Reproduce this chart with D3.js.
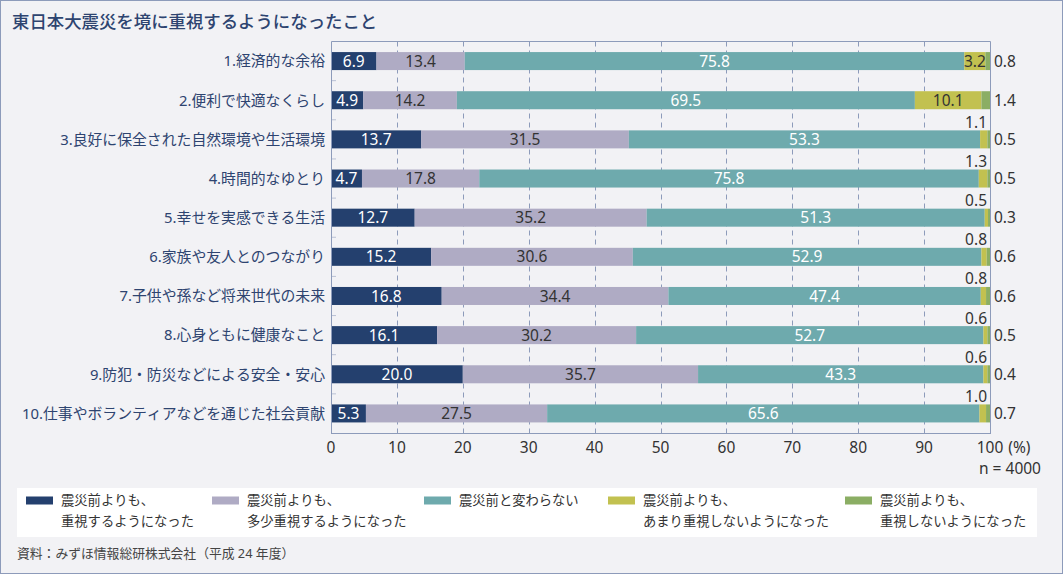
<!DOCTYPE html>
<html><head><meta charset="utf-8">
<script src="https://cdn.jsdelivr.net/npm/d3@7"></script>
<style>
html,body{margin:0;padding:0;background:#f2f2f5;}
svg{display:block;font-family:"Noto Sans","Noto Sans CJK JP",sans-serif;font-kerning:none;}
</style></head><body>
<svg id="c" width="1063" height="574"></svg>
<script>
const title = "東日本大震災を境に重視するようになったこと";
const categories = ["1.経済的な余裕","2.便利で快適なくらし","3.良好に保全された自然環境や生活環境","4.時間的なゆとり","5.幸せを実感できる生活","6.家族や友人とのつながり","7.子供や孫など将来世代の未来","8.心身ともに健康なこと","9.防犯・防災などによる安全・安心","10.仕事やボランティアなどを通じた社会貢献"];
const seriesNames = ["震災前よりも、\n重視するようになった","震災前よりも、\n多少重視するようになった","震災前と変わらない","震災前よりも、\nあまり重視しないようになった","震災前よりも、\n重視しないようになった"];
const s1 = [6.9,4.9,13.7,4.7,12.7,15.2,16.8,16.1,20.0,5.3];
const s2 = [13.4,14.2,31.5,17.8,35.2,30.6,34.4,30.2,35.7,27.5];
const s3 = [75.8,69.5,53.3,75.8,51.3,52.9,47.4,52.7,43.3,65.6];
const s4 = [3.2,10.1,1.1,1.3,0.5,0.8,0.8,0.6,0.6,1.0];
const s5 = [0.8,1.4,0.5,0.5,0.3,0.6,0.6,0.5,0.4,0.7];
const xTicks = [0,10,20,30,40,50,60,70,80,90,100];
const unitLabel = "(%)";
const nNote = "n = 4000";
const source = "資料：みずほ情報総研株式会社（平成 24 年度）";
const colors = ["#24406e","#afabc4","#6eaaad","#c2c150","#8bae64"];
const textColors = ["#ffffff","#333333","#ffffff","#333333","#333333"];
const series = [s1,s2,s3,s4,s5];

(function(){
const svg = d3.select("#c");
const W=1063,H=574;
svg.append("rect").attr("x",0.5).attr("y",0.5).attr("width",W-1).attr("height",H-1)
  .attr("fill","#f2f2f5").attr("stroke","#8d9bba").attr("stroke-width",1);

svg.append("text").attr("x",12).attr("y",28).text(title)
  .attr("font-size",17.4).attr("font-weight",500).attr("fill","#2e4470")
  .style("font-family",'"Noto Sans CJK JP Medium","Noto Sans CJK JP",sans-serif');

const pL=331,pR=990,pT=41.5,pB=433;
const x = d3.scaleLinear().domain([0,100]).range([pL,pR]);
const y = d3.scaleBand().domain(categories).range([pT,pB]).paddingInner(0.54).paddingOuter(0.27);
const bh = y.bandwidth();

svg.append("g").selectAll("line").data(xTicks.filter(t=>t>0&&t<100)).join("line")
  .attr("x1",d=>Math.round(x(d))+0.5).attr("x2",d=>Math.round(x(d))+0.5).attr("y1",pT).attr("y2",pB)
  .attr("stroke","#8d9bba").attr("stroke-width",1).attr("stroke-dasharray","5,4");

const rowH=(pB-pT)/categories.length;
svg.append("g").selectAll("line").data(d3.range(1,categories.length)).join("line")
  .attr("x1",pL).attr("x2",pL+5).attr("y1",d=>pT+d*rowH).attr("y2",d=>pT+d*rowH)
  .attr("stroke","#b9c1d4").attr("stroke-width",1);

const stackData = categories.map((c,i)=>{
  const o={cat:c}; series.forEach((s,j)=>o["s"+j]=s[i]); return o;});
const stack = d3.stack().keys(series.map((s,j)=>"s"+j));
const layers = stack(stackData);
const g = svg.append("g");
layers.forEach((layer,j)=>{
  g.append("g").selectAll("rect").data(layer).join("rect")
    .attr("x",d=>x(d[0])).attr("y",d=>y(d.data.cat))
    .attr("width",d=>Math.max(0,x(Math.min(100,d[1]))-x(d[0])))
    .attr("height",bh).attr("fill",colors[j]);
});

svg.append("path").attr("d",`M${pL+0.5},${pB+0.5}V${pT}H${pR+0.5}V${pB+0.5}`)
  .attr("fill","none").attr("stroke","#8d9bba").attr("stroke-width",1);
svg.append("line").attr("x1",pL).attr("x2",pR+1).attr("y1",pB+0.5).attr("y2",pB+0.5)
  .attr("stroke","#8d9bba").attr("stroke-width",1);

const fmt = d3.format(".1f");
const lab = svg.append("g").attr("font-size",15.5);
layers.forEach((layer,j)=>{
  layer.forEach((d,i)=>{
    const v = series[j][i];
    const cy = y(d.data.cat)+bh/2;
    if(j<3 || (j===3 && v>=3)){
      lab.append("text").attr("x",(x(d[0])+x(Math.min(100,d[1])))/2).attr("y",cy)
        .attr("dy","0.36em").attr("text-anchor","middle").attr("fill",textColors[j]).text(fmt(v));
    } else if(j===3){
      lab.append("text").attr("x",987).attr("y",y(d.data.cat)-2.5)
        .attr("text-anchor","end").attr("fill","#333").text(fmt(v));
    } else {
      lab.append("text").attr("x",994).attr("y",cy).attr("dy","0.36em")
        .attr("text-anchor","start").attr("fill","#333").text(fmt(v));
    }
  });
});

svg.append("g").selectAll("text").data(categories).join("text")
  .attr("x",325).attr("y",d=>y(d)+bh/2).attr("dy","0.36em").attr("text-anchor","end")
  .attr("font-size",14.85).attr("fill","#2e4470").text(d=>d);

const ax = svg.append("g").attr("font-size",15.5).attr("fill","#333");
let last;
xTicks.forEach(t=>{
  last = ax.append("text").attr("x",x(t)).attr("y",453).attr("text-anchor","middle").attr("fill","#333").text(t);
});
const lw = last.node().getComputedTextLength();
ax.append("text").attr("x",x(100)+lw/2+5).attr("y",453).attr("text-anchor","start").attr("fill","#333").text(unitLabel);
ax.append("text").attr("x",1041).attr("y",474).attr("text-anchor","end").attr("fill","#333").text(nNote);

svg.append("rect").attr("x",17).attr("y",488).attr("width",1020).attr("height",49).attr("fill","#ffffff");
const legX = [26,212,424,608,845];
const lg = svg.append("g").attr("font-size",13.3).attr("fill","#333");
seriesNames.forEach((n,j)=>{
  lg.append("rect").attr("x",legX[j]).attr("y",496.5).attr("width",27).attr("height",8).attr("fill",colors[j]);
  const lines = n.split("\n");
  lines.forEach((ln,k)=>{
    lg.append("text").attr("x",legX[j]+35).attr("y",505+k*21).attr("fill","#333").text(ln);
  });
});

svg.append("text").attr("x",17).attr("y",558).attr("font-size",12.8).attr("fill","#444").text(source);
})();
</script>
</body></html>
